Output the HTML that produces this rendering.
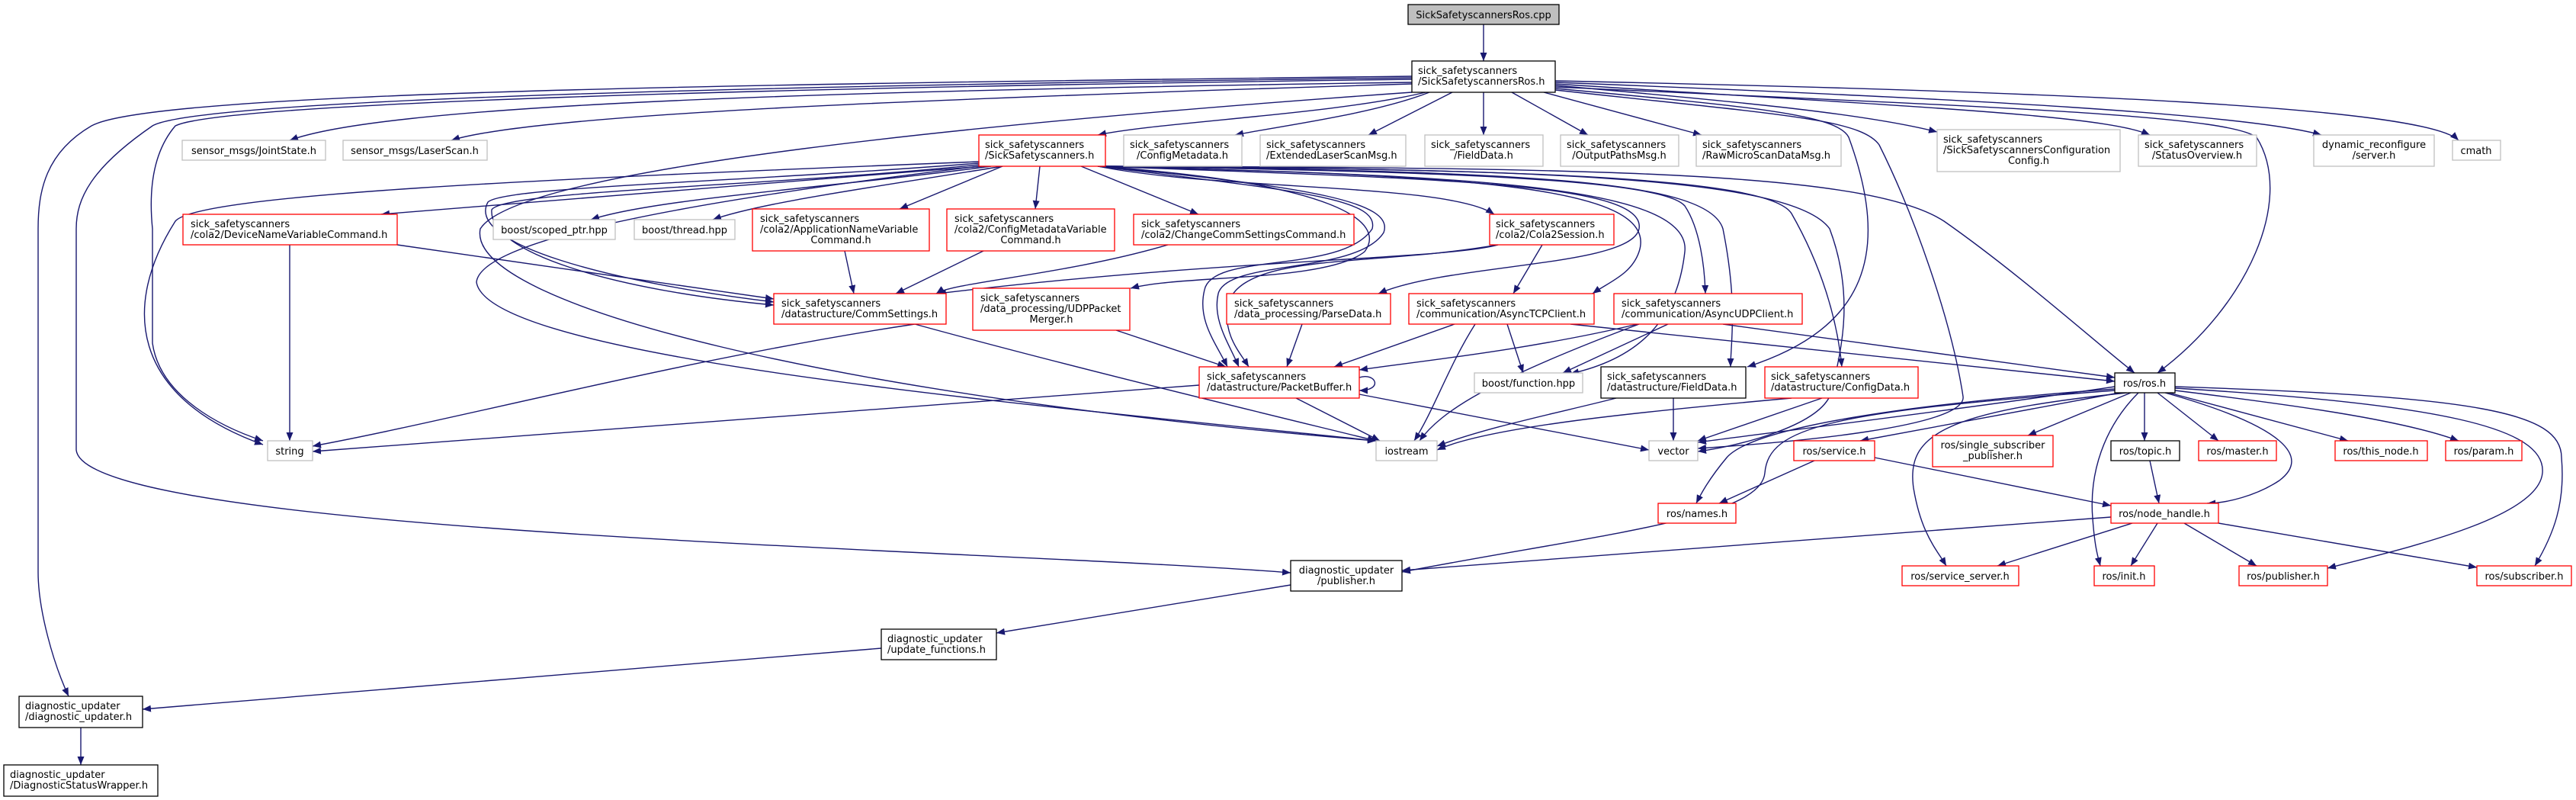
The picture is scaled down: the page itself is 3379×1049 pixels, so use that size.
<!DOCTYPE html>
<html><head><meta charset="utf-8"><style>
html,body{margin:0;padding:0;background:#fff;}
svg{display:block;}
text{font-family:"DejaVu Sans","Liberation Sans",sans-serif;font-size:13px;fill:#000;}
.e{stroke:#191970;stroke-width:1.4;fill:none;marker-end:url(#a);}
.r{fill:#fff;stroke:#ff0000;stroke-width:1.3;}
.g{fill:#fff;stroke:#bfbfbf;stroke-width:1.3;}
.b{fill:#fff;stroke:#000;stroke-width:1.3;}
</style></head><body>
<svg width="3379" height="1049" viewBox="0 0 3379 1049" xmlns="http://www.w3.org/2000/svg">
<defs><marker id="a" markerUnits="userSpaceOnUse" markerWidth="12" markerHeight="9" refX="11" refY="4.5" orient="auto"><path d="M0,0 L11,4.5 L0,9 z" fill="#191970"/></marker></defs>
<g>
<path class="e" d="M1946,32 L1946,80"/>
<path class="e" d="M1870,121 C1750,150 1520,160 1440,177"/>
<path class="e" d="M1875,121 C1800,150 1680,165 1620,177"/>
<path class="e" d="M1905,121 L1795,177"/>
<path class="e" d="M1946,121 L1946,177"/>
<path class="e" d="M1983,121 L2083,177"/>
<path class="e" d="M2025,121 L2232,177"/>
<path class="e" d="M2040,112 C2300,135 2450,150 2541,173"/>
<path class="e" d="M2040,110 C2500,140 2760,150 2820,177"/>
<path class="e" d="M2040,108 C2600,130 2950,150 3045,177"/>
<path class="e" d="M2040,106 C2700,120 3180,140 3225,184"/>
<path class="e" d="M1852,110 C1200,130 700,150 592,184"/>
<path class="e" d="M1852,108 C1000,120 500,140 380,184"/>
<path class="e" d="M1852,100 C1000,110 200,120 120,165 C60,200 50,250 50,300 L50,750 C50,800 70,870 90,913"/>
<path class="e" d="M1852,102 C1000,112 260,130 200,165 C120,220 100,260 100,300 L100,590 C110,700 1300,720 1693,751"/>
<path class="e" d="M1852,104 C1000,115 290,135 230,165 C200,200 195,250 200,300 L200,450 C210,520 290,560 345,578"/>
<path class="e" d="M1852,121 C1300,160 680,220 630,300 C610,400 1100,520 1805,578"/>
<path class="e" d="M2040,114 C2600,140 2920,150 2960,180 C3010,260 2950,400 2830,489"/>
<path class="e" d="M2040,116 C2300,140 2410,150 2425,180 C2480,330 2450,430 2292,481"/>
<path class="e" d="M2040,118 C2330,150 2440,155 2465,190 C2510,280 2560,420 2575,520 C2580,560 2350,580 2227,588"/>
<path class="e" d="M1290,218 C1000,240 700,265 500,281"/>
<path class="e" d="M1300,218 C1100,245 860,260 775,288"/>
<path class="e" d="M1315,218 C1150,245 1000,265 935,288"/>
<path class="e" d="M1315,218 L1180,274"/>
<path class="e" d="M1364,218 L1358,274"/>
<path class="e" d="M1418,218 L1572,281"/>
<path class="e" d="M1440,218 C1600,250 1900,240 1960,281"/>
<path class="e" d="M1284,212 C700,235 260,255 230,290 C160,400 170,520 345,583"/>
<path class="e" d="M1284,214 C950,240 660,245 640,265 C610,320 800,370 1015,396"/>
<path class="e" d="M1284,216 C1000,245 660,250 645,275 C640,330 800,380 1015,400"/>
<path class="e" d="M1284,218 C850,270 630,320 625,370 C640,470 1350,530 1805,578"/>
<path class="e" d="M1440,218 C1750,240 1820,290 1790,330 C1740,370 1550,360 1483,378"/>
<path class="e" d="M1440,218 C1900,235 2160,240 2150,300 C2140,350 1900,345 1808,385"/>
<path class="e" d="M1445,218 C1900,230 2180,240 2150,330 C2140,360 2110,370 2089,385"/>
<path class="e" d="M1450,218 C1900,225 2180,235 2210,270 C2230,300 2236,350 2237,385"/>
<path class="e" d="M1440,218 C1700,250 1810,260 1800,300 C1760,360 1590,330 1580,380 C1570,420 1595,450 1610,481"/>
<path class="e" d="M1440,218 C1720,245 1830,265 1815,305 C1780,360 1610,340 1598,385 C1590,420 1612,450 1625,481"/>
<path class="e" d="M1965,321 C1800,350 1630,330 1610,400 C1605,440 1625,460 1638,481"/>
<path class="e" d="M1445,218 C1900,230 2220,240 2210,330 C2200,420 2150,470 2060,490"/>
<path class="e" d="M1450,218 C2000,225 2240,235 2260,300 C2280,400 2270,450 2270,481"/>
<path class="e" d="M1450,218 C2000,222 2320,232 2350,280 C2390,350 2410,420 2416,481"/>
<path class="e" d="M1450,218 C2100,220 2450,225 2550,290 C2650,360 2750,450 2800,489"/>
<path class="e" d="M1450,218 C2000,222 2350,230 2400,300 C2430,380 2420,450 2400,520 C2380,560 2280,585 2227,592"/>
<path class="e" d="M521,321 L1015,392"/>
<path class="e" d="M380,321 L380,578"/>
<path class="e" d="M1108,329 L1120,385"/>
<path class="e" d="M1290,329 L1175,385"/>
<path class="e" d="M1532,321 C1400,360 1250,370 1228,385"/>
<path class="e" d="M1965,321 C1900,340 1600,340 1230,385"/>
<path class="e" d="M2023,321 L1985,385"/>
<path class="e" d="M1200,425 C900,470 600,550 410,585"/>
<path class="e" d="M1200,425 C1400,480 1650,540 1805,578"/>
<path class="e" d="M1464,433 L1608,481"/>
<path class="e" d="M1708,425 L1688,481"/>
<path class="e" d="M1908,425 L1750,481"/>
<path class="e" d="M1977,425 L1998,489"/>
<path class="e" d="M1935,425 C1900,480 1880,540 1855,578"/>
<path class="e" d="M2060,425 C2400,460 2600,480 2774,500"/>
<path class="e" d="M2148,425 C2000,460 1850,475 1783,485"/>
<path class="e" d="M2188,425 L2050,489"/>
<path class="e" d="M2150,425 C1950,500 1890,540 1862,578"/>
<path class="e" d="M2260,425 L2774,495"/>
<path class="e" d="M1783,495 C1805,488 1815,512 1783,512"/>
<path class="e" d="M1573,505 L410,592"/>
<path class="e" d="M1700,522 L1810,578"/>
<path class="e" d="M1783,517 L2163,590"/>
<path class="e" d="M2120,522 C2050,540 1950,560 1885,585"/>
<path class="e" d="M2195,522 L2195,578"/>
<path class="e" d="M2350,522 C2150,540 1950,560 1885,590"/>
<path class="e" d="M2390,522 L2227,578"/>
<path class="e" d="M2774,507 C2550,540 2300,570 2227,580"/>
<path class="e" d="M2774,510 C2500,530 2300,560 2265,600 C2240,630 2230,650 2225,660"/>
<path class="e" d="M2780,515 L2440,578"/>
<path class="e" d="M2795,515 L2660,571"/>
<path class="e" d="M2813,515 L2813,578"/>
<path class="e" d="M2830,515 L2910,578"/>
<path class="e" d="M2845,515 L3080,578"/>
<path class="e" d="M2853,512 C3000,530 3150,550 3225,578"/>
<path class="e" d="M2840,515 C3000,560 3030,600 2990,630 C2960,650 2920,660 2895,660"/>
<path class="e" d="M2790,515 C2550,540 2500,570 2510,640 C2520,700 2540,720 2553,742"/>
<path class="e" d="M2805,515 C2760,560 2740,620 2745,680 C2748,720 2752,730 2755,742"/>
<path class="e" d="M2853,509 C3200,530 3340,560 3335,620 C3330,680 3150,720 3053,745"/>
<path class="e" d="M2853,507 C3250,520 3360,540 3360,600 C3365,660 3350,700 3325,742"/>
<path class="e" d="M2774,512 C2400,540 2320,560 2315,620 C2310,680 2100,700 1839,750"/>
<path class="e" d="M2380,604 L2255,660"/>
<path class="e" d="M2459,600 L2769,663"/>
<path class="e" d="M2820,604 L2832,660"/>
<path class="e" d="M2769,678 L1839,748"/>
<path class="e" d="M2797,686 L2620,742"/>
<path class="e" d="M2830,686 L2795,742"/>
<path class="e" d="M2865,686 L2960,742"/>
<path class="e" d="M2910,686 L3249,744"/>
<path class="e" d="M1693,767 L1307,830"/>
<path class="e" d="M1156,850 L187,930"/>
<path class="e" d="M106,954 L106,1003"/>
</g>
<g>
<rect x="1847" y="6" width="198" height="26" fill="#bfbfbf" stroke="#000" stroke-width="1.3"/><text x="1946" y="24" text-anchor="middle">SickSafetyscannersRos.cpp</text>
<rect class="b" x="1852" y="80" width="188" height="41"/><text x="1860" y="97">sick_safetyscanners</text><text x="1860" y="111">/SickSafetyscannersRos.h</text>
<rect class="r" x="1284" y="177" width="166" height="41"/><text x="1292" y="194">sick_safetyscanners</text><text x="1292" y="208">/SickSafetyscanners.h</text>
<rect class="g" x="1474" y="177" width="155" height="41"/><text x="1482" y="194">sick_safetyscanners</text><text x="1551" y="208" text-anchor="middle">/ConfigMetadata.h</text>
<rect class="g" x="1653" y="177" width="191" height="41"/><text x="1661" y="194">sick_safetyscanners</text><text x="1661" y="208">/ExtendedLaserScanMsg.h</text>
<rect class="g" x="1869" y="177" width="155" height="41"/><text x="1877" y="194">sick_safetyscanners</text><text x="1946" y="208" text-anchor="middle">/FieldData.h</text>
<rect class="g" x="2047" y="177" width="155" height="41"/><text x="2055" y="194">sick_safetyscanners</text><text x="2124" y="208" text-anchor="middle">/OutputPathsMsg.h</text>
<rect class="g" x="2225" y="177" width="190" height="41"/><text x="2233" y="194">sick_safetyscanners</text><text x="2233" y="208">/RawMicroScanDataMsg.h</text>
<rect class="g" x="2541" y="170" width="240" height="55"/><text x="2549" y="187">sick_safetyscanners</text><text x="2549" y="201">/SickSafetyscannersConfiguration</text><text x="2661" y="215" text-anchor="middle">Config.h</text>
<rect class="g" x="2805" y="177" width="155" height="41"/><text x="2813" y="194">sick_safetyscanners</text><text x="2882" y="208" text-anchor="middle">/StatusOverview.h</text>
<rect class="g" x="3035" y="177" width="158" height="41"/><text x="3114" y="194" text-anchor="middle">dynamic_reconfigure</text><text x="3114" y="208" text-anchor="middle">/server.h</text>
<rect class="g" x="3217" y="184" width="63" height="26"/><text x="3248" y="202" text-anchor="middle">cmath</text>
<rect class="g" x="239" y="184" width="188" height="26"/><text x="333" y="202" text-anchor="middle">sensor_msgs/JointState.h</text>
<rect class="g" x="450" y="184" width="189" height="26"/><text x="544" y="202" text-anchor="middle">sensor_msgs/LaserScan.h</text>
<rect class="r" x="240" y="281" width="281" height="40"/><text x="250" y="298">sick_safetyscanners</text><text x="250" y="312">/cola2/DeviceNameVariableCommand.h</text>
<rect class="g" x="647" y="288" width="160" height="26"/><text x="727" y="306" text-anchor="middle">boost/scoped_ptr.hpp</text>
<rect class="g" x="832" y="288" width="132" height="26"/><text x="898" y="306" text-anchor="middle">boost/thread.hpp</text>
<rect class="r" x="987" y="274" width="232" height="55"/><text x="997" y="291">sick_safetyscanners</text><text x="997" y="305">/cola2/ApplicationNameVariable</text><text x="1103" y="319" text-anchor="middle">Command.h</text>
<rect class="r" x="1242" y="274" width="220" height="55"/><text x="1252" y="291">sick_safetyscanners</text><text x="1252" y="305">/cola2/ConfigMetadataVariable</text><text x="1352" y="319" text-anchor="middle">Command.h</text>
<rect class="r" x="1487" y="281" width="289" height="40"/><text x="1497" y="298">sick_safetyscanners</text><text x="1497" y="312">/cola2/ChangeCommSettingsCommand.h</text>
<rect class="r" x="1954" y="281" width="163" height="40"/><text x="1962" y="298">sick_safetyscanners</text><text x="1962" y="312">/cola2/Cola2Session.h</text>
<rect class="r" x="1015" y="385" width="226" height="40"/><text x="1025" y="402">sick_safetyscanners</text><text x="1025" y="416">/datastructure/CommSettings.h</text>
<rect class="r" x="1276" y="378" width="206" height="55"/><text x="1286" y="395">sick_safetyscanners</text><text x="1286" y="409">/data_processing/UDPPacket</text><text x="1379" y="423" text-anchor="middle">Merger.h</text>
<rect class="r" x="1609" y="385" width="215" height="40"/><text x="1619" y="402">sick_safetyscanners</text><text x="1619" y="416">/data_processing/ParseData.h</text>
<rect class="r" x="1848" y="385" width="243" height="40"/><text x="1858" y="402">sick_safetyscanners</text><text x="1858" y="416">/communication/AsyncTCPClient.h</text>
<rect class="r" x="2117" y="385" width="247" height="40"/><text x="2127" y="402">sick_safetyscanners</text><text x="2127" y="416">/communication/AsyncUDPClient.h</text>
<rect class="r" x="1573" y="481" width="210" height="41"/><text x="1583" y="498">sick_safetyscanners</text><text x="1583" y="512">/datastructure/PacketBuffer.h</text>
<rect class="g" x="1934" y="489" width="142" height="26"/><text x="2005" y="507" text-anchor="middle">boost/function.hpp</text>
<rect class="b" x="2100" y="481" width="190" height="41"/><text x="2108" y="498">sick_safetyscanners</text><text x="2108" y="512">/datastructure/FieldData.h</text>
<rect class="r" x="2315" y="481" width="201" height="41"/><text x="2323" y="498">sick_safetyscanners</text><text x="2323" y="512">/datastructure/ConfigData.h</text>
<rect class="b" x="2774" y="489" width="79" height="26"/><text x="2813" y="507" text-anchor="middle">ros/ros.h</text>
<rect class="g" x="351" y="578" width="59" height="26"/><text x="380" y="596" text-anchor="middle">string</text>
<rect class="g" x="1805" y="578" width="80" height="26"/><text x="1845" y="596" text-anchor="middle">iostream</text>
<rect class="g" x="2163" y="578" width="64" height="26"/><text x="2195" y="596" text-anchor="middle">vector</text>
<rect class="r" x="2353" y="578" width="106" height="26"/><text x="2406" y="596" text-anchor="middle">ros/service.h</text>
<rect class="r" x="2535" y="571" width="158" height="41"/><text x="2614" y="588" text-anchor="middle">ros/single_subscriber</text><text x="2614" y="602" text-anchor="middle">_publisher.h</text>
<rect class="b" x="2769" y="578" width="90" height="26"/><text x="2814" y="596" text-anchor="middle">ros/topic.h</text>
<rect class="r" x="2884" y="578" width="102" height="26"/><text x="2935" y="596" text-anchor="middle">ros/master.h</text>
<rect class="r" x="3063" y="578" width="121" height="26"/><text x="3123" y="596" text-anchor="middle">ros/this_node.h</text>
<rect class="r" x="3208" y="578" width="100" height="26"/><text x="3258" y="596" text-anchor="middle">ros/param.h</text>
<rect class="r" x="2175" y="660" width="102" height="26"/><text x="2226" y="678" text-anchor="middle">ros/names.h</text>
<rect class="r" x="2769" y="660" width="141" height="26"/><text x="2839" y="678" text-anchor="middle">ros/node_handle.h</text>
<rect class="b" x="1693" y="735" width="146" height="40"/><text x="1766" y="752" text-anchor="middle">diagnostic_updater</text><text x="1766" y="766" text-anchor="middle">/publisher.h</text>
<rect class="r" x="2495" y="742" width="153" height="26"/><text x="2571" y="760" text-anchor="middle">ros/service_server.h</text>
<rect class="r" x="2747" y="742" width="79" height="26"/><text x="2786" y="760" text-anchor="middle">ros/init.h</text>
<rect class="r" x="2937" y="742" width="116" height="26"/><text x="2995" y="760" text-anchor="middle">ros/publisher.h</text>
<rect class="r" x="3249" y="742" width="124" height="26"/><text x="3311" y="760" text-anchor="middle">ros/subscriber.h</text>
<rect class="b" x="1156" y="825" width="151" height="40"/><text x="1164" y="842">diagnostic_updater</text><text x="1164" y="856">/update_functions.h</text>
<rect class="b" x="25" y="913" width="162" height="41"/><text x="33" y="930">diagnostic_updater</text><text x="33" y="944">/diagnostic_updater.h</text>
<rect class="b" x="5" y="1003" width="202" height="41"/><text x="13" y="1020">diagnostic_updater</text><text x="13" y="1034">/DiagnosticStatusWrapper.h</text>
</g>
</svg>
</body></html>
